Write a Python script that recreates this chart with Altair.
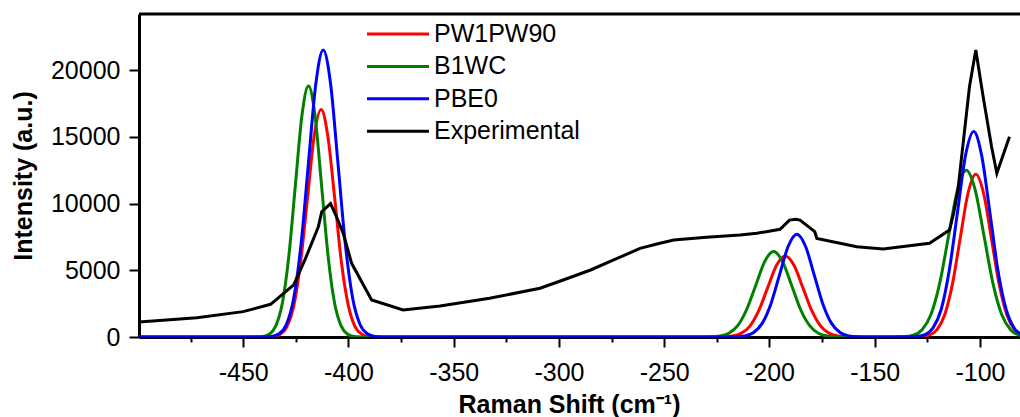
import altair as alt
import pandas as pd

FONT = "Liberation Sans"

SERIES = ["PW1PW90", "B1WC", "PBE0", "Experimental"]
COLORS = ["#ff0000", "#008000", "#0000ff", "#000000"]

X_MIN, X_MAX = -499.5, -81.0
Y_MIN, Y_MAX = 0, 24200
X_TICKS = [-475, -450, -425, -400, -375, -350, -325, -300, -275, -250,
           -225, -200, -175, -150, -125, -100]
Y_TICKS = [0, 2500, 5000, 7500, 10000, 12500, 15000, 17500, 20000, 22500]

# PW1PW90 (red)
RED_X = [-499.5, -442, -435.8, -432.5, -429.3, -426.0, -422.8, -419.5, -416.3, -413.0,
         -409.8, -406.5, -403.3, -400.0, -396.8, -393.5, -390.3, -384,
         -228, -221.9, -217.7, -213.5, -209.3, -205.1, -200.9, -196.7, -192.5, -188.3,
         -184.1, -179.9, -175.7, -171.5, -167.3, -163.1, -157,
         -134, -127.9, -124.2, -120.5, -116.8, -113.1, -109.4, -105.7, -102.0, -98.3,
         -94.6, -90.9, -87.2, -83.5, -79.8, -76.1]
RED_Y = [0, 0, 40, 190, 750, 2310, 5540, 10340, 15050, 17050,
         15050, 10340, 5540, 2310, 750, 190, 40, 0,
         0, 15, 70, 270, 820, 1970, 3680, 5360, 6070, 5360,
         3680, 1970, 820, 270, 70, 15, 0,
         0, 30, 135, 540, 1650, 3960, 7400, 10770, 12200, 10770,
         7400, 3960, 1650, 540, 135, 30]

# B1WC (green)
GREEN_X = [-499.5, -447, -440.7, -437.6, -434.5, -431.4, -428.3, -425.2, -422.1, -419.0,
           -415.9, -412.8, -409.7, -406.6, -403.5, -400.4, -397.3, -391,
           -234, -227.8, -223.5, -219.3, -215.0, -210.8, -206.5, -202.3, -198.0, -193.8,
           -189.5, -185.3, -181.0, -176.8, -172.5, -168.3, -162,
           -142, -135.9, -131.7, -127.5, -123.3, -119.1, -114.9, -110.7, -106.5, -102.3,
           -98.1, -93.9, -89.7, -85.5, -81.3, -77.1]
GREEN_Y = [0, 0, 40, 210, 830, 2540, 6100, 11400, 16590, 18800,
           16590, 11400, 6100, 2540, 830, 210, 40, 0,
           0, 15, 70, 280, 870, 2080, 3880, 5650, 6400, 5650,
           3880, 2080, 870, 280, 70, 15, 0,
           0, 30, 140, 550, 1690, 4060, 7580, 11030, 12500, 11030,
           7580, 4060, 1690, 550, 140, 30]

# PBE0 (blue)
BLUE_X = [-499.5, -443, -436.5, -433.0, -429.5, -426.0, -422.5, -419.0, -415.5, -412.0,
          -408.5, -405.0, -401.5, -398.0, -394.5, -391.0, -387.5, -381,
          -222, -215.7, -211.6, -207.5, -203.4, -199.3, -195.2, -191.1, -187.0, -182.9,
          -178.8, -174.7, -170.6, -166.5, -162.4, -158.3, -152,
          -136, -130.0, -126.1, -122.3, -118.4, -114.6, -110.7, -106.9, -103.0, -99.2,
          -95.3, -91.5, -87.6, -83.8, -79.9, -76.1]
BLUE_Y = [0, 0, 45, 240, 940, 2910, 6980, 13040, 18970, 21500,
          18970, 13040, 6980, 2910, 940, 240, 45, 0,
          0, 15, 85, 340, 1040, 2500, 4670, 6800, 7700, 6800,
          4670, 2500, 1040, 340, 85, 15, 0,
          0, 35, 170, 680, 2080, 5000, 9340, 13590, 15400, 13590,
          9340, 5000, 2080, 680, 170, 35]

# Experimental (black)
EXP_X = [-499.5, -472, -450, -437, -426, -420.7, -414.3, -412.7, -408.5, -405.7,
         -402.5, -398.5, -389, -374, -356.5, -333, -309, -298, -285, -274,
         -261.5, -253.5, -245.5, -230, -214, -206, -195, -190.5, -187.5, -185.5,
         -178.5, -177.5, -158.5, -146, -124, -114.5, -112.5, -110.5, -105, -102,
         -98.5, -94.5, -92, -86]
EXP_Y = [1130, 1450, 1900, 2450, 3900, 5770, 8260, 9390, 10000, 9010,
         7770, 5520, 2770, 2020, 2320, 2900, 3650, 4270, 5020, 5770,
         6640, 6970, 7270, 7470, 7640, 7770, 8070, 8760, 8820, 8760,
         7890, 7390, 6760, 6590, 7020, 8010, 9270, 11010, 18750, 21500,
         18000, 14250, 12260, 15000]


def frame(name, xs, ys):
    return pd.DataFrame({"shift": xs, "intensity": ys, "series": name})


x_enc = alt.X(
    "shift:Q",
    scale=alt.Scale(domain=[X_MIN, X_MAX], nice=False, zero=False),
    axis=alt.Axis(
        values=X_TICKS,
        labelExpr="datum.value % 50 === 0 ? '' + datum.value : ''",
        tickSize={"condition": {"test": "datum.value % 50 === 0", "value": 10}, "value": 5},
        tickWidth=2, tickColor="black",
        domainWidth=3, domainColor="black",
        labelFont=FONT, labelFontSize=25, labelColor="black", labelPadding=13,
        labelOverlap=False, labelFlush=False, grid=False,
        title="Raman Shift (cm⁻¹)", titleFont=FONT, titleFontSize=25,
        titleFontWeight="bold", titleColor="black",
        titleX=430, titleY=75, titleBaseline="alphabetic", titleAlign="center",
    ),
)
y_enc = alt.Y(
    "intensity:Q",
    scale=alt.Scale(domain=[Y_MIN, Y_MAX], nice=False, zero=False),
    axis=alt.Axis(
        values=Y_TICKS,
        labelExpr="datum.value % 5000 === 0 ? '' + datum.value : ''",
        tickSize={"condition": {"test": "datum.value % 5000 === 0", "value": 10}, "value": 5},
        tickWidth=2, tickColor="black",
        domainWidth=3, domainColor="black",
        labelFont=FONT, labelFontSize=25, labelColor="black", labelPadding=9,
        labelOverlap=False, grid=False,
        title="Intensity (a.u.)", titleFont=FONT, titleFontSize=25,
        titleFontWeight="bold", titleColor="black",
        titleX=-108, titleY=161.5, titleAngle=-90, titleBaseline="alphabetic",
        titleAlign="center",
    ),
)
color_enc = alt.Color(
    "series:N",
    scale=alt.Scale(domain=SERIES, range=COLORS),
    legend=alt.Legend(
        title=None, orient="none", legendX=228, legendY=6,
        symbolType="M-2.5,0H2.5", symbolSize=615, symbolStrokeWidth=3,
        symbolOffset=17, symbolFillColor="transparent",
        labelFont=FONT, labelFontSize=25, labelColor="black", labelOffset=22,
        rowPadding=5.4, padding=0,
    ),
    sort=SERIES,
)


def line(df, interp):
    return alt.Chart(df).mark_line(
        interpolate=interp, strokeWidth=3, clip=True
    ).encode(x=x_enc, y=y_enc, color=color_enc)


red = line(frame("PW1PW90", RED_X, RED_Y), "monotone")
green = line(frame("B1WC", GREEN_X, GREEN_Y), "monotone")
blue = line(frame("PBE0", BLUE_X, BLUE_Y), "monotone")
exp = line(frame("Experimental", EXP_X, EXP_Y), "linear")

top = alt.Chart(pd.DataFrame({"intensity": [Y_MAX]})).mark_rule(
    strokeWidth=3, color="black"
).encode(y=alt.Y("intensity:Q"))

chart = alt.layer(red, green, blue, exp, top).properties(
    width=881, height=323,
    autosize=alt.AutoSizeParams(type="none"),
    padding={"left": 139, "top": 14, "right": 0, "bottom": 80},
    background="white",
).configure_view(stroke=None)

chart.save("out.html", embed_options={"renderer": "svg", "actions": False})
